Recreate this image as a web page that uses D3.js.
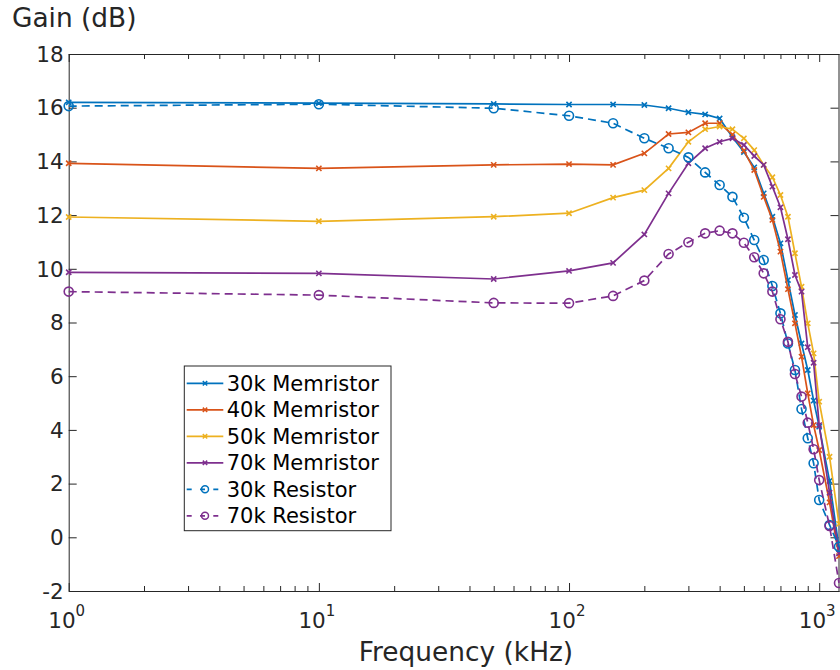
<!DOCTYPE html>
<html>
<head>
<meta charset="utf-8">
<script src="https://cdn.jsdelivr.net/npm/d3@7"></script>
<style>
  body { margin: 0; background: #fff; }
  svg { font-family: "DejaVu Sans", sans-serif; }
</style>
</head>
<body>
<div id="chart"></div>
<script>
// frequency points (kHz)
const freqs = [1, 10, 50, 100, 150, 200, 250, 300, 350, 400, 450, 500, 550, 600,
    650, 700, 750, 800, 850, 900, 950, 1000, 1100, 1200];

// gain (dB)
const mem30k = [16.2, 16.17, 16.14, 16.12, 16.12, 16.1, 15.98, 15.83, 15.75, 15.6, 14.9, 14.35,
    13.78, 12.81, 11.94, 10.95, 9.58, 8.28, 7.22, 6.23, 5.09, 4.12, 2.1, -0.4];
const mem40k = [13.93, 13.74, 13.87, 13.9, 13.87, 14.3, 15.02, 15.08, 15.42, 15.42, 15.0, 14.4,
    13.68, 12.68, 11.82, 10.64, 9.24, 7.97, 6.73, 5.36, 4.18, 3.25, 1.3, -0.7];
const mem50k = [11.93, 11.77, 11.94, 12.07, 12.65, 12.93, 13.74, 14.73, 15.2, 15.3, 15.2, 14.86,
    14.42, 13.87, 13.41, 12.75, 11.94, 10.58, 9.33, 7.97, 6.85, 5.05, 3.0, 0.5];
const mem70k = [9.87, 9.83, 9.62, 9.92, 10.22, 11.28, 12.81, 13.93, 14.49, 14.73, 14.86, 14.61,
    14.2, 13.87, 13.06, 12.29, 11.1, 9.77, 9.15, 7.08, 6.5, 4.18, 1.66, -0.6];
const res30k = [16.06, 16.13, 15.98, 15.7, 15.42, 14.86, 14.49, 14.15, 13.59, 13.12, 12.68, 11.9,
    11.07, 10.33, 9.36, 8.34, 7.22, 6.23, 4.78, 3.69, 2.76, 1.39, 0.46, -0.35];
const res70k = [9.15, 9.02, 8.73, 8.72, 8.99, 9.56, 10.55, 10.99, 11.32, 11.42, 11.32, 10.97,
    10.43, 9.83, 9.15, 8.12, 7.28, 6.08, 5.24, 4.27, 3.28, 2.13, 0.42, -1.7];

const seriesNames = ['30k Memristor', '40k Memristor', '50k Memristor', '70k Memristor',
    '30k Resistor', '70k Resistor'];
const seriesColors = ['#0072BD', '#D95319', '#EDB120', '#7E2F8E', '#0072BD', '#7E2F8E'];
const seriesValues = [mem30k, mem40k, mem50k, mem70k, res30k, res70k];
const seriesDashed = [false, false, false, false, true, true];

const yTicks = [-2, 0, 2, 4, 6, 8, 10, 12, 14, 16, 18];
const xMajor = [1, 10, 100, 1000];

const margin = {top: 54, right: 1, bottom: 79, left: 68.7};
const width = 840, height = 670;
const axisColor = '#262626';

const svg = d3.select('#chart').append('svg')
    .attr('width', width)
    .attr('height', height);

const x = d3.scaleLog()
    .domain([1, 1200])
    .range([margin.left, width - margin.right]);
const y = d3.scaleLinear()
    .domain([-2, 18])
    .range([height - margin.bottom, margin.top]);

// minor ticks of the log axis
const xMinor = x.ticks().filter(d => !xMajor.includes(d) && d <= 1200);

function styleAxis(g) {
    g.selectAll('path, line').attr('stroke', axisColor).attr('stroke-width', 1);
    g.selectAll('text').remove();
}

const yB = height - margin.bottom, yT = margin.top;
const xL = margin.left, xR = width - margin.right;

svg.append('g').attr('transform', `translate(0,${yB})`)
    .call(d3.axisBottom(x).tickValues(xMajor).tickSize(-8).tickSizeOuter(0))
    .call(styleAxis);
svg.append('g').attr('transform', `translate(0,${yB})`)
    .call(d3.axisBottom(x).tickValues(xMinor).tickSize(-5).tickSizeOuter(0))
    .call(styleAxis);
svg.append('g').attr('transform', `translate(0,${yT})`)
    .call(d3.axisTop(x).tickValues(xMajor).tickSize(-8).tickSizeOuter(0))
    .call(styleAxis);
svg.append('g').attr('transform', `translate(0,${yT})`)
    .call(d3.axisTop(x).tickValues(xMinor).tickSize(-5).tickSizeOuter(0))
    .call(styleAxis);
svg.append('g').attr('transform', `translate(${xL},0)`)
    .call(d3.axisLeft(y).tickValues(yTicks).tickSize(-8).tickSizeOuter(0))
    .call(styleAxis);
svg.append('g').attr('transform', `translate(${xR - 0.5},0)`)
    .call(d3.axisRight(y).tickValues(yTicks).tickSize(-8).tickSizeOuter(0))
    .call(styleAxis);

// y tick labels
svg.append('g').selectAll('text')
    .data(yTicks)
    .join('text')
    .attr('x', xL - 5)
    .attr('y', d => y(d))
    .attr('dy', '0.36em')
    .attr('text-anchor', 'end')
    .attr('font-size', 21.5)
    .attr('fill', axisColor)
    .text(d => d);

// x tick labels 10^n
const xLab = svg.append('g').selectAll('text')
    .data(xMajor)
    .join('text')
    .attr('x', d => x(d) - 2)
    .attr('y', 628)
    .attr('text-anchor', 'middle')
    .attr('font-size', 21.5)
    .attr('fill', axisColor);
xLab.append('tspan').text('10');
xLab.append('tspan')
    .attr('dy', -12)
    .attr('font-size', 15)
    .text(d => Math.round(Math.log10(d)));

svg.append('text')
    .attr('x', 12)
    .attr('y', 27)
    .attr('font-size', 26.4)
    .attr('fill', axisColor)
    .text('Gain (dB)');
svg.append('text')
    .attr('x', 466)
    .attr('y', 661)
    .attr('text-anchor', 'middle')
    .attr('font-size', 26.4)
    .attr('fill', axisColor)
    .text('Frequency (kHz)');

// data
const line = d3.line()
    .x((d, i) => x(freqs[i]))
    .y(d => y(d));

const crossPath = s => `M${-s},${-s}L${s},${s}M${-s},${s}L${s},${-s}`;

function drawMarkers(g, dashed, color) {
    if (dashed) {
        g.append('circle').attr('r', 4.5)
            .attr('fill', 'none').attr('stroke', color).attr('stroke-width', 1.6);
    } else {
        g.append('path').attr('d', crossPath(2.6))
            .attr('fill', 'none').attr('stroke', color).attr('stroke-width', 1.6);
    }
}

const dataRegion = svg.append('g').attr('id', 'data');
seriesValues.forEach((vals, k) => {
    const grp = dataRegion.append('g');
    grp.append('path')
        .datum(vals)
        .attr('d', line)
        .attr('fill', 'none')
        .attr('stroke', seriesColors[k])
        .attr('stroke-width', 1.7)
        .attr('stroke-dasharray', seriesDashed[k] ? '8,5' : null);
    grp.selectAll('g.mk')
        .data(vals)
        .join('g')
        .attr('class', 'mk')
        .attr('transform', (d, i) => `translate(${x(freqs[i])},${y(d)})`)
        .each(function () { drawMarkers(d3.select(this), seriesDashed[k], seriesColors[k]); });
});

// legend
const legend = svg.append('g').attr('transform', 'translate(184.3,366)');
legend.append('rect')
    .attr('width', 206.7)
    .attr('height', 164.7)
    .attr('fill', '#fff')
    .attr('stroke', axisColor)
    .attr('stroke-width', 1);
seriesNames.forEach((name, k) => {
    const row = legend.append('g').attr('transform', `translate(0,${17.3 + k * 26.5})`);
    row.append('line')
        .attr('x1', 2.4).attr('x2', 39)
        .attr('stroke', seriesColors[k])
        .attr('stroke-width', 1.7)
        .attr('stroke-dasharray', seriesDashed[k] ? '5,8.3' : null);
    const mk = row.append('g').attr('transform', 'translate(20.7,0)');
    if (seriesDashed[k]) {
        mk.append('circle').attr('r', 3.5)
            .attr('fill', 'none').attr('stroke', seriesColors[k]).attr('stroke-width', 1.5);
    } else {
        mk.append('path').attr('d', crossPath(2.2))
            .attr('fill', 'none').attr('stroke', seriesColors[k]).attr('stroke-width', 1.5);
    }
    row.append('text')
        .attr('x', 42.4)
        .attr('dy', '0.36em')
        .attr('font-size', 21)
        .attr('fill', '#000')
        .text(name);
});
</script>
</body>
</html>
